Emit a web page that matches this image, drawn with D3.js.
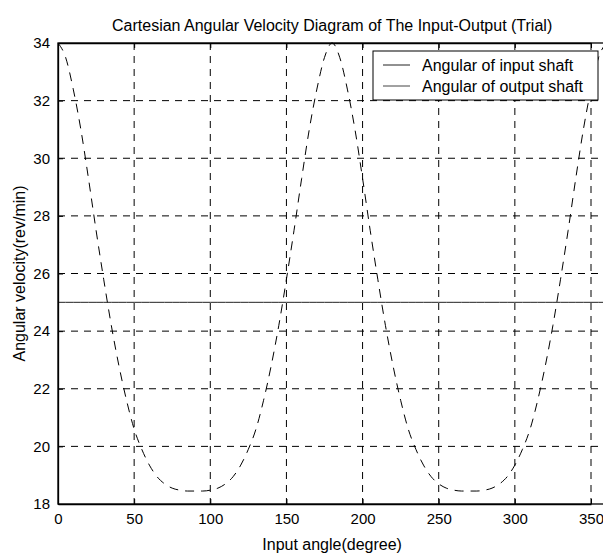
<!DOCTYPE html>
<html>
<head>
<meta charset="utf-8">
<script src="https://cdn.jsdelivr.net/npm/d3@7"></script>
<style>
  html, body { margin: 0; background: #fff; overflow: hidden; }
  svg { display: block; }
  text { font-family: Arial, "Liberation Sans", sans-serif; fill: #000; }
</style>
</head>
<body>
<div id="chart"></div>
<script>
const inputAngle = [0, 5, 10, 15, 20, 25, 30, 35, 40, 45, 50, 55, 60, 65, 70, 75, 80, 85, 90,
  95, 100, 105, 110, 115, 120, 125, 130, 135, 140, 145, 150, 155, 160, 165, 170, 175, 180,
  185, 190, 195, 200, 205, 210, 215, 220, 225, 230, 235, 240, 245, 250, 255, 260, 265, 270,
  275, 280, 285, 290, 295, 300, 305, 310, 315, 320, 325, 330, 335, 340, 345, 350, 355, 360]
const inputShaft = [25, 25, 25, 25, 25, 25, 25, 25, 25, 25, 25, 25, 25, 25, 25, 25, 25, 25, 25,
  25, 25, 25, 25, 25, 25, 25, 25, 25, 25, 25, 25, 25, 25, 25, 25, 25, 25,
  25, 25, 25, 25, 25, 25, 25, 25, 25, 25, 25, 25, 25, 25, 25, 25, 25, 25,
  25, 25, 25, 25, 25, 25, 25, 25, 25, 25, 25, 25, 25, 25, 25, 25, 25, 25]
const outputShaft = [34.0, 33.5, 32.4, 31.0, 29.3, 27.5, 25.8, 24.2, 22.8, 21.6, 20.6, 19.9, 19.35,
  18.95, 18.7, 18.55, 18.48, 18.45, 18.45,
  18.45, 18.48, 18.55, 18.7, 18.95, 19.35, 19.9, 20.6, 21.6, 22.8, 24.2, 25.8, 27.5, 29.3,
  31.0, 32.4, 33.5, 34.0,
  33.5, 32.4, 31.0, 29.3, 27.5, 25.8, 24.2, 22.8, 21.6, 20.6, 19.9, 19.35, 18.95, 18.7, 18.55,
  18.48, 18.45, 18.45,
  18.45, 18.48, 18.55, 18.7, 18.95, 19.35, 19.9, 20.6, 21.6, 22.8, 24.2, 25.8, 27.5, 29.3,
  31.0, 32.4, 33.5, 34.0]
const xTicks = [0, 50, 100, 150, 200, 250, 300, 350]
const yTicks = [18, 20, 22, 24, 26, 28, 30, 32, 34]
const seriesNames = ['Angular of input shaft', 'Angular of output shaft']

const width = 603
const height = 554
const plotLeft = 58
const plotTop = 43
const plotBottom = 504

const x = d3.scaleLinear().domain([0, 350]).range([plotLeft, 591])
const plotRight = x(360)
const y = d3.scaleLinear().domain([18, 34]).range([plotBottom, plotTop])

const svg = d3.select('#chart')
  .append('svg')
  .attr('width', width)
  .attr('height', height)

// grid
svg.append('g')
  .selectAll('line')
  .data(xTicks.slice(1))
  .enter()
  .append('line')
  .attr('x1', d => x(d)).attr('x2', d => x(d))
  .attr('y1', plotTop).attr('y2', plotBottom)
  .attr('stroke', '#000')
  .attr('stroke-width', 1)
  .attr('stroke-dasharray', '7,6')

svg.append('g')
  .selectAll('line')
  .data(yTicks.slice(1, -1))
  .enter()
  .append('line')
  .attr('x1', plotLeft).attr('x2', plotRight)
  .attr('y1', d => y(d)).attr('y2', d => y(d))
  .attr('stroke', '#000')
  .attr('stroke-width', 1)
  .attr('stroke-dasharray', '7,6')

// series
const line = (vals) => d3.line()
  .x((d, i) => x(inputAngle[i]))
  .y(d => y(d))
  .curve(d3.curveMonotoneX)(vals)

svg.append('path')
  .attr('d', line(inputShaft))
  .attr('fill', 'none')
  .attr('stroke', '#222')
  .attr('stroke-width', 1)

svg.append('path')
  .attr('d', line(outputShaft))
  .attr('fill', 'none')
  .attr('stroke', '#000')
  .attr('stroke-width', 1)
  .attr('stroke-dasharray', '9,7')

// axes (ticks inside, like MATLAB)
svg.append('g')
  .attr('transform', `translate(0,${plotBottom})`)
  .call(d3.axisBottom(x).tickValues(xTicks).tickSize(-5).tickPadding(9).tickSizeOuter(0))
svg.append('g')
  .attr('transform', `translate(0,${plotTop})`)
  .call(d3.axisTop(x).tickValues(xTicks).tickSize(-5).tickFormat('').tickSizeOuter(0))
svg.append('g')
  .attr('transform', `translate(${plotLeft},0)`)
  .call(d3.axisLeft(y).tickValues(yTicks).tickSize(-5).tickPadding(8).tickSizeOuter(0))

svg.selectAll('.domain').attr('stroke', '#000').attr('stroke-width', 1.3)
svg.selectAll('.tick line').attr('stroke', '#000')
svg.selectAll('.tick text').style('font-size', '15px').attr('fill', '#000')

svg.append('rect')
  .attr('x', plotLeft).attr('y', plotTop)
  .attr('width', plotRight - plotLeft).attr('height', plotBottom - plotTop)
  .attr('fill', 'none')
  .attr('stroke', '#000')
  .attr('stroke-width', 1.3)

// legend
const legend = svg.append('g').attr('transform', 'translate(373,51)')
legend.append('rect')
  .attr('width', 225).attr('height', 49)
  .attr('fill', '#fff')
  .attr('stroke', '#000')
  .attr('stroke-width', 1)
seriesNames.forEach((name, i) => {
  const ly = 14 + i * 21
  legend.append('line')
    .attr('x1', 10).attr('x2', 37)
    .attr('y1', ly).attr('y2', ly)
    .attr('stroke', i === 0 ? '#222' : '#444')
    .attr('stroke-width', 1)
  legend.append('text')
    .attr('x', 49).attr('y', ly + 5.5)
    .style('font-size', '16px')
    .text(name)
})

// labels
svg.append('text')
  .attr('x', (plotLeft + plotRight) / 2).attr('y', 31)
  .attr('text-anchor', 'middle')
  .style('font-size', '16px')
  .text('Cartesian Angular Velocity Diagram of The Input-Output (Trial)')

svg.append('text')
  .attr('x', (plotLeft + plotRight) / 2).attr('y', 550)
  .attr('text-anchor', 'middle')
  .style('font-size', '16px')
  .text('Input angle(degree)')

svg.append('text')
  .attr('transform', `translate(25,${(plotTop + plotBottom) / 2}) rotate(-90)`)
  .attr('text-anchor', 'middle')
  .style('font-size', '16px')
  .text('Angular velocity(rev/min)')
</script>
</body>
</html>
